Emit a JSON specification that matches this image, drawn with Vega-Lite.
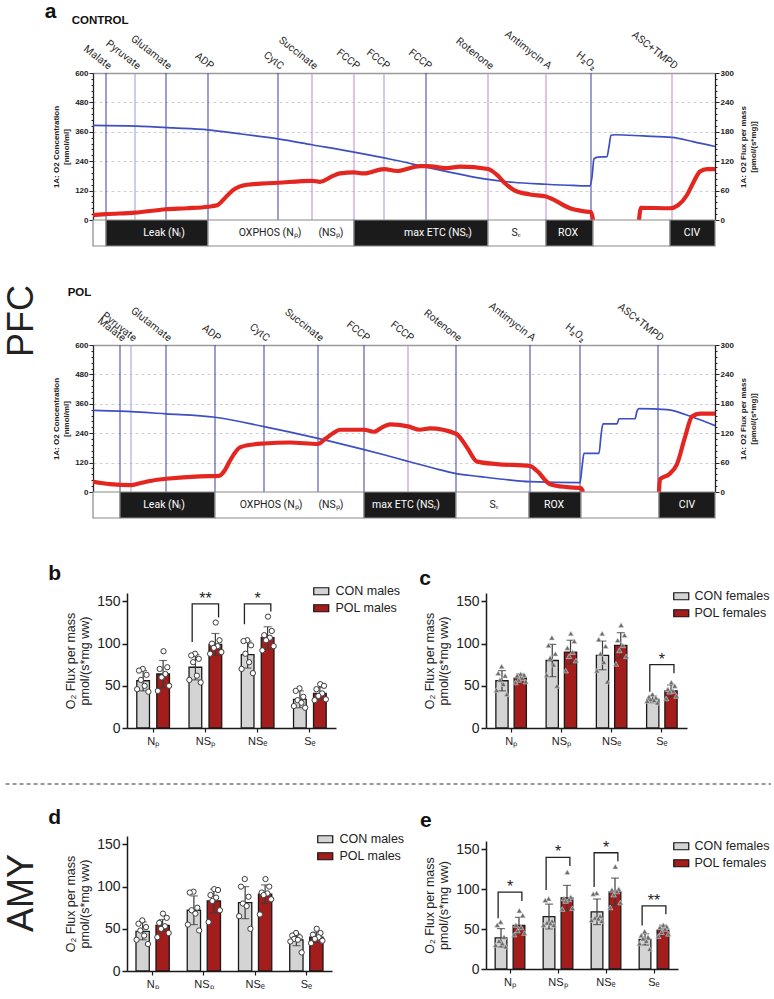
{
  "$schema": "https://vega.github.io/schema/vega-lite/v6.json",
  "padding": {"left": 3, "top": 0, "right": 0, "bottom": 0},
  "config": {
    "view": {"stroke": null},
    "font": "Liberation Sans",
    "title": {"color": "#111", "font": "Liberation Sans"},
    "axis": {"labelFont": "Liberation Sans", "titleFont": "Liberation Sans"},
    "legend": {"labelFont": "Liberation Sans"}
  },
  "datasets": {
    "ctrl_events": [
      {"t": 13, "label": "Malate", "kind": "blue"},
      {"t": 42, "label": "Pyruvate", "kind": "pale"},
      {"t": 73, "label": "Glutamate", "kind": "blue"},
      {"t": 115, "label": "ADP", "kind": "blue"},
      {"t": 185, "label": "CytC", "kind": "blue"},
      {"t": 219, "label": "Succinate", "kind": "violet"},
      {"t": 261, "label": "FCCP", "kind": "violet"},
      {"t": 291, "label": "FCCP", "kind": "pale"},
      {"t": 333, "label": "FCCP", "kind": "blue"},
      {"t": 395, "label": "Rotenone", "kind": "violet"},
      {"t": 453, "label": "Antimycin A", "kind": "violet"},
      {"t": 498, "label": "H₂O₂", "kind": "blue"},
      {"t": 579, "label": "ASC+TMPD", "kind": "violet"}
    ],
    "ctrl_conc": [
      {"t": 0, "o2": 386}, {"t": 43, "o2": 383}, {"t": 80, "o2": 376}, {"t": 115, "o2": 368},
      {"t": 150, "o2": 350}, {"t": 185, "o2": 331}, {"t": 219, "o2": 307}, {"t": 261, "o2": 277},
      {"t": 300, "o2": 246}, {"t": 340, "o2": 210}, {"t": 395, "o2": 166}, {"t": 420, "o2": 154},
      {"t": 453, "o2": 146}, {"t": 480, "o2": 141}, {"t": 497, "o2": 139}, {"t": 499, "o2": 175},
      {"t": 501, "o2": 250}, {"t": 505, "o2": 257}, {"t": 514, "o2": 259}, {"t": 516, "o2": 300},
      {"t": 518, "o2": 346}, {"t": 522, "o2": 348}, {"t": 550, "o2": 343}, {"t": 579, "o2": 337},
      {"t": 600, "o2": 320}, {"t": 622, "o2": 300}
    ],
    "ctrl_flux": [
      {"t": 0, "flux": 10, "seg": "a"}, {"t": 13, "flux": 12, "seg": "a"}, {"t": 42, "flux": 15, "seg": "a"},
      {"t": 73, "flux": 22, "seg": "a"}, {"t": 94, "flux": 24, "seg": "a"}, {"t": 115, "flux": 27, "seg": "a"},
      {"t": 124, "flux": 30, "seg": "a"}, {"t": 132, "flux": 45, "seg": "a"}, {"t": 140, "flux": 61, "seg": "a"},
      {"t": 154, "flux": 72, "seg": "a"}, {"t": 185, "flux": 76, "seg": "a"}, {"t": 219, "flux": 80, "seg": "a"},
      {"t": 227, "flux": 78, "seg": "a"}, {"t": 240, "flux": 90, "seg": "a"}, {"t": 247, "flux": 95, "seg": "a"},
      {"t": 261, "flux": 97, "seg": "a"}, {"t": 271, "flux": 95, "seg": "a"}, {"t": 291, "flux": 104, "seg": "a"},
      {"t": 304, "flux": 100, "seg": "a"}, {"t": 327, "flux": 110, "seg": "a"}, {"t": 334, "flux": 110, "seg": "a"},
      {"t": 354, "flux": 106, "seg": "a"}, {"t": 367, "flux": 109, "seg": "a"}, {"t": 395, "flux": 104, "seg": "a"},
      {"t": 404, "flux": 92, "seg": "a"}, {"t": 412, "flux": 75, "seg": "a"}, {"t": 421, "flux": 61, "seg": "a"},
      {"t": 437, "flux": 52, "seg": "a"}, {"t": 453, "flux": 48, "seg": "a"}, {"t": 461, "flux": 41, "seg": "a"},
      {"t": 477, "flux": 24, "seg": "a"}, {"t": 490, "flux": 18, "seg": "a"}, {"t": 498, "flux": 16, "seg": "a"},
      {"t": 500, "flux": 0, "seg": "a"},
      {"t": 546, "flux": 0, "seg": "b"}, {"t": 548, "flux": 25, "seg": "b"}, {"t": 577, "flux": 24, "seg": "b"},
      {"t": 585, "flux": 30, "seg": "b"}, {"t": 594, "flux": 51, "seg": "b"}, {"t": 600, "flux": 75, "seg": "b"},
      {"t": 607, "flux": 99, "seg": "b"}, {"t": 614, "flux": 104, "seg": "b"}, {"t": 622, "flux": 104, "seg": "b"}
    ],
    "ctrl_states": [
      {"start": 0, "end": 13, "band": "light"}, {"start": 13, "end": 115, "band": "dark"},
      {"start": 115, "end": 261, "band": "light"}, {"start": 261, "end": 395, "band": "dark"},
      {"start": 395, "end": 453, "band": "light"}, {"start": 453, "end": 500, "band": "dark"},
      {"start": 500, "end": 577, "band": "light"}, {"start": 577, "end": 622, "band": "dark"}
    ],
    "ctrl_statelabels": [
      {"t": 71, "label": "Leak (Nₗ)", "band": "dark"},
      {"t": 177, "label": "OXPHOS (Nₚ)", "band": "light"},
      {"t": 238, "label": "(NSₚ)", "band": "light"},
      {"t": 345, "label": "max ETC (NSₑ)", "band": "dark"},
      {"t": 423, "label": "Sₑ", "band": "light"},
      {"t": 475, "label": "ROX", "band": "dark"},
      {"t": 599, "label": "CIV", "band": "dark"}
    ],
    "pol_events": [
      {"t": 27, "label": "Malate", "kind": "blue"},
      {"t": 38, "label": "Pyruvate", "kind": "pale"},
      {"t": 73, "label": "Glutamate", "kind": "blue"},
      {"t": 122, "label": "ADP", "kind": "blue"},
      {"t": 171, "label": "CytC", "kind": "blue"},
      {"t": 225, "label": "Succinate", "kind": "blue"},
      {"t": 271, "label": "FCCP", "kind": "blue"},
      {"t": 315, "label": "FCCP", "kind": "violet"},
      {"t": 363, "label": "Rotenone", "kind": "blue"},
      {"t": 437, "label": "Antimycin A", "kind": "blue"},
      {"t": 487, "label": "H₂O₂", "kind": "blue"},
      {"t": 565, "label": "ASC+TMPD", "kind": "blue"}
    ],
    "pol_conc": [
      {"t": 0, "o2": 333}, {"t": 27, "o2": 330}, {"t": 73, "o2": 319}, {"t": 122, "o2": 305},
      {"t": 171, "o2": 267}, {"t": 225, "o2": 219}, {"t": 271, "o2": 173}, {"t": 290, "o2": 153},
      {"t": 315, "o2": 125}, {"t": 340, "o2": 98}, {"t": 363, "o2": 75}, {"t": 387, "o2": 63},
      {"t": 410, "o2": 52}, {"t": 437, "o2": 42}, {"t": 487, "o2": 38}, {"t": 489, "o2": 100},
      {"t": 491, "o2": 158}, {"t": 506, "o2": 158}, {"t": 508, "o2": 230}, {"t": 510, "o2": 278},
      {"t": 524, "o2": 278}, {"t": 526, "o2": 299}, {"t": 542, "o2": 299}, {"t": 544, "o2": 330},
      {"t": 546, "o2": 340}, {"t": 574, "o2": 336}, {"t": 600, "o2": 305}, {"t": 622, "o2": 271}
    ],
    "pol_flux": [
      {"t": 0, "flux": 21, "seg": "a"}, {"t": 17, "flux": 16, "seg": "a"}, {"t": 38, "flux": 14, "seg": "a"},
      {"t": 47, "flux": 18, "seg": "a"}, {"t": 64, "flux": 25, "seg": "a"}, {"t": 73, "flux": 27, "seg": "a"},
      {"t": 107, "flux": 32, "seg": "a"}, {"t": 126, "flux": 33, "seg": "a"}, {"t": 132, "flux": 45, "seg": "a"},
      {"t": 137, "flux": 64, "seg": "a"}, {"t": 147, "flux": 91, "seg": "a"}, {"t": 160, "flux": 97, "seg": "a"},
      {"t": 171, "flux": 99, "seg": "a"}, {"t": 197, "flux": 101, "seg": "a"}, {"t": 225, "flux": 98, "seg": "a"},
      {"t": 232, "flux": 108, "seg": "a"}, {"t": 240, "flux": 120, "seg": "a"}, {"t": 247, "flux": 127, "seg": "a"},
      {"t": 271, "flux": 127, "seg": "a"}, {"t": 281, "flux": 123, "seg": "a"}, {"t": 290, "flux": 133, "seg": "a"},
      {"t": 297, "flux": 138, "seg": "a"}, {"t": 315, "flux": 134, "seg": "a"}, {"t": 327, "flux": 127, "seg": "a"},
      {"t": 337, "flux": 130, "seg": "a"}, {"t": 363, "flux": 119, "seg": "a"}, {"t": 374, "flux": 91, "seg": "a"},
      {"t": 384, "flux": 62, "seg": "a"}, {"t": 404, "flux": 57, "seg": "a"}, {"t": 437, "flux": 53, "seg": "a"},
      {"t": 444, "flux": 43, "seg": "a"}, {"t": 457, "flux": 16, "seg": "a"}, {"t": 474, "flux": 10, "seg": "a"},
      {"t": 488, "flux": 8, "seg": "a"}, {"t": 490, "flux": 0, "seg": "a"},
      {"t": 566, "flux": 0, "seg": "b"}, {"t": 567, "flux": 26, "seg": "b"}, {"t": 576, "flux": 36, "seg": "b"},
      {"t": 584, "flux": 57, "seg": "b"}, {"t": 592, "flux": 112, "seg": "b"}, {"t": 599, "flux": 154, "seg": "b"},
      {"t": 607, "flux": 160, "seg": "b"}, {"t": 622, "flux": 160, "seg": "b"}
    ],
    "pol_states": [
      {"start": 0, "end": 27, "band": "light"}, {"start": 27, "end": 122, "band": "dark"},
      {"start": 122, "end": 271, "band": "light"}, {"start": 271, "end": 363, "band": "dark"},
      {"start": 363, "end": 436, "band": "light"}, {"start": 436, "end": 488, "band": "dark"},
      {"start": 488, "end": 566, "band": "light"}, {"start": 566, "end": 622, "band": "dark"}
    ],
    "pol_statelabels": [
      {"t": 71, "label": "Leak (Nₗ)", "band": "dark"},
      {"t": 178, "label": "OXPHOS (Nₚ)", "band": "light"},
      {"t": 238, "label": "(NSₚ)", "band": "light"},
      {"t": 313, "label": "max ETC (NSₑ)", "band": "dark"},
      {"t": 401, "label": "Sₑ", "band": "light"},
      {"t": 461, "label": "ROX", "band": "dark"},
      {"t": 594, "label": "CIV", "band": "dark"}
    ],
    "b_means": [
      {"cat": "Nₚ", "group": "CON males", "mean": 56, "lo": 44, "hi": 68},
      {"cat": "Nₚ", "group": "POL males", "mean": 64, "lo": 48, "hi": 80},
      {"cat": "NSₚ", "group": "CON males", "mean": 72, "lo": 57, "hi": 87},
      {"cat": "NSₚ", "group": "POL males", "mean": 99, "lo": 86, "hi": 112},
      {"cat": "NSₑ", "group": "CON males", "mean": 87, "lo": 71, "hi": 103},
      {"cat": "NSₑ", "group": "POL males", "mean": 107, "lo": 94, "hi": 120},
      {"cat": "Sₑ", "group": "CON males", "mean": 34, "lo": 24, "hi": 44},
      {"cat": "Sₑ", "group": "POL males", "mean": 41, "lo": 34, "hi": 48}
    ],
    "b_dots": [
      {"cat": "Nₚ", "id": "C4", "v": 70}, {"cat": "Nₚ", "id": "C2", "v": 68}, {"cat": "Nₚ", "id": "C6", "v": 63}, {"cat": "Nₚ", "id": "C3", "v": 57}, {"cat": "Nₚ", "id": "C5", "v": 50}, {"cat": "Nₚ", "id": "C1", "v": 46}, {"cat": "Nₚ", "id": "C7", "v": 43},
      {"cat": "Nₚ", "id": "P4", "v": 91}, {"cat": "Nₚ", "id": "P6", "v": 72}, {"cat": "Nₚ", "id": "P2", "v": 70}, {"cat": "Nₚ", "id": "P5", "v": 64}, {"cat": "Nₚ", "id": "P3", "v": 60}, {"cat": "Nₚ", "id": "P7", "v": 50}, {"cat": "Nₚ", "id": "P1", "v": 44},
      {"cat": "NSₚ", "id": "C4", "v": 88}, {"cat": "NSₚ", "id": "C2", "v": 86}, {"cat": "NSₚ", "id": "C6", "v": 82}, {"cat": "NSₚ", "id": "C3", "v": 78}, {"cat": "NSₚ", "id": "C5", "v": 62}, {"cat": "NSₚ", "id": "C1", "v": 57}, {"cat": "NSₚ", "id": "C7", "v": 54},
      {"cat": "NSₚ", "id": "P4", "v": 125}, {"cat": "NSₚ", "id": "P6", "v": 104}, {"cat": "NSₚ", "id": "P2", "v": 100}, {"cat": "NSₚ", "id": "P5", "v": 97}, {"cat": "NSₚ", "id": "P3", "v": 95}, {"cat": "NSₚ", "id": "P7", "v": 90}, {"cat": "NSₚ", "id": "P1", "v": 88},
      {"cat": "NSₑ", "id": "C4", "v": 104}, {"cat": "NSₑ", "id": "C2", "v": 103}, {"cat": "NSₑ", "id": "C6", "v": 98}, {"cat": "NSₑ", "id": "C3", "v": 88}, {"cat": "NSₑ", "id": "C5", "v": 78}, {"cat": "NSₑ", "id": "C1", "v": 70}, {"cat": "NSₑ", "id": "C7", "v": 65},
      {"cat": "NSₑ", "id": "P4", "v": 132}, {"cat": "NSₑ", "id": "P6", "v": 115}, {"cat": "NSₑ", "id": "P2", "v": 110}, {"cat": "NSₑ", "id": "P5", "v": 107}, {"cat": "NSₑ", "id": "P3", "v": 104}, {"cat": "NSₑ", "id": "P7", "v": 97}, {"cat": "NSₑ", "id": "P1", "v": 92},
      {"cat": "Sₑ", "id": "C4", "v": 47}, {"cat": "Sₑ", "id": "C2", "v": 44}, {"cat": "Sₑ", "id": "C6", "v": 37}, {"cat": "Sₑ", "id": "C3", "v": 33}, {"cat": "Sₑ", "id": "C5", "v": 30}, {"cat": "Sₑ", "id": "C1", "v": 26}, {"cat": "Sₑ", "id": "C7", "v": 24},
      {"cat": "Sₑ", "id": "P4", "v": 52}, {"cat": "Sₑ", "id": "P6", "v": 50}, {"cat": "Sₑ", "id": "P2", "v": 46}, {"cat": "Sₑ", "id": "P5", "v": 41}, {"cat": "Sₑ", "id": "P3", "v": 38}, {"cat": "Sₑ", "id": "P7", "v": 34}, {"cat": "Sₑ", "id": "P1", "v": 33}
    ],
    "b_brackets": [
      {"cat": "NSₚ", "group": "CON males", "y": 102, "seq": 1}, {"cat": "NSₚ", "group": "CON males", "y": 147, "seq": 2},
      {"cat": "NSₚ", "group": "POL males", "y": 147, "seq": 3}, {"cat": "NSₚ", "group": "POL males", "y": 131, "seq": 4},
      {"cat": "NSₑ", "group": "CON males", "y": 123, "seq": 1}, {"cat": "NSₑ", "group": "CON males", "y": 147, "seq": 2},
      {"cat": "NSₑ", "group": "POL males", "y": 147, "seq": 3}, {"cat": "NSₑ", "group": "POL males", "y": 138, "seq": 4}
    ],
    "b_stars": [
      {"cat": "NSₚ", "y": 147, "label": "**"},
      {"cat": "NSₑ", "y": 147, "label": "*"}
    ],
    "c_means": [
      {"cat": "Nₚ", "group": "CON females", "mean": 56, "lo": 44, "hi": 68},
      {"cat": "Nₚ", "group": "POL females", "mean": 59, "lo": 54, "hi": 64},
      {"cat": "NSₚ", "group": "CON females", "mean": 80, "lo": 61, "hi": 99},
      {"cat": "NSₚ", "group": "POL females", "mean": 90, "lo": 76, "hi": 104},
      {"cat": "NSₑ", "group": "CON females", "mean": 86, "lo": 69, "hi": 103},
      {"cat": "NSₑ", "group": "POL females", "mean": 98, "lo": 83, "hi": 113},
      {"cat": "Sₑ", "group": "CON females", "mean": 34, "lo": 30, "hi": 38},
      {"cat": "Sₑ", "group": "POL females", "mean": 44, "lo": 37, "hi": 51}
    ],
    "c_dots": [
      {"cat": "Nₚ", "id": "C4", "v": 73}, {"cat": "Nₚ", "id": "C2", "v": 65}, {"cat": "Nₚ", "id": "C6", "v": 62}, {"cat": "Nₚ", "id": "C3", "v": 57}, {"cat": "Nₚ", "id": "C5", "v": 52}, {"cat": "Nₚ", "id": "C1", "v": 45}, {"cat": "Nₚ", "id": "C7", "v": 40},
      {"cat": "Nₚ", "id": "P4", "v": 64}, {"cat": "Nₚ", "id": "P6", "v": 63}, {"cat": "Nₚ", "id": "P2", "v": 62}, {"cat": "Nₚ", "id": "P5", "v": 59}, {"cat": "Nₚ", "id": "P3", "v": 57}, {"cat": "Nₚ", "id": "P7", "v": 55}, {"cat": "Nₚ", "id": "P1", "v": 54},
      {"cat": "NSₚ", "id": "C4", "v": 107}, {"cat": "NSₚ", "id": "C2", "v": 98}, {"cat": "NSₚ", "id": "C6", "v": 88}, {"cat": "NSₚ", "id": "C3", "v": 83}, {"cat": "NSₚ", "id": "C5", "v": 75}, {"cat": "NSₚ", "id": "C1", "v": 63}, {"cat": "NSₚ", "id": "C7", "v": 50},
      {"cat": "NSₚ", "id": "P4", "v": 112}, {"cat": "NSₚ", "id": "P6", "v": 103}, {"cat": "NSₚ", "id": "P2", "v": 95}, {"cat": "NSₚ", "id": "P5", "v": 90}, {"cat": "NSₚ", "id": "P3", "v": 85}, {"cat": "NSₚ", "id": "P7", "v": 80}, {"cat": "NSₚ", "id": "P1", "v": 68},
      {"cat": "NSₑ", "id": "C4", "v": 112}, {"cat": "NSₑ", "id": "C2", "v": 105}, {"cat": "NSₑ", "id": "C6", "v": 97}, {"cat": "NSₑ", "id": "C3", "v": 88}, {"cat": "NSₑ", "id": "C5", "v": 78}, {"cat": "NSₑ", "id": "C1", "v": 68}, {"cat": "NSₑ", "id": "C7", "v": 55},
      {"cat": "NSₑ", "id": "P4", "v": 122}, {"cat": "NSₑ", "id": "P6", "v": 110}, {"cat": "NSₑ", "id": "P2", "v": 104}, {"cat": "NSₑ", "id": "P5", "v": 98}, {"cat": "NSₑ", "id": "P3", "v": 92}, {"cat": "NSₑ", "id": "P7", "v": 85}, {"cat": "NSₑ", "id": "P1", "v": 76},
      {"cat": "Sₑ", "id": "C4", "v": 40}, {"cat": "Sₑ", "id": "C2", "v": 37}, {"cat": "Sₑ", "id": "C6", "v": 36}, {"cat": "Sₑ", "id": "C3", "v": 34}, {"cat": "Sₑ", "id": "C5", "v": 33}, {"cat": "Sₑ", "id": "C1", "v": 32}, {"cat": "Sₑ", "id": "C7", "v": 30},
      {"cat": "Sₑ", "id": "P4", "v": 54}, {"cat": "Sₑ", "id": "P6", "v": 50}, {"cat": "Sₑ", "id": "P2", "v": 46}, {"cat": "Sₑ", "id": "P5", "v": 44}, {"cat": "Sₑ", "id": "P3", "v": 43}, {"cat": "Sₑ", "id": "P7", "v": 38}, {"cat": "Sₑ", "id": "P1", "v": 35}
    ],
    "c_brackets": [
      {"cat": "Sₑ", "group": "CON females", "y": 43, "seq": 1}, {"cat": "Sₑ", "group": "CON females", "y": 75, "seq": 2},
      {"cat": "Sₑ", "group": "POL females", "y": 75, "seq": 3}, {"cat": "Sₑ", "group": "POL females", "y": 65, "seq": 4}
    ],
    "c_stars": [
      {"cat": "Sₑ", "y": 75, "label": "*"}
    ],
    "d_means": [
      {"cat": "Nₚ", "group": "CON males", "mean": 47, "lo": 37, "hi": 58},
      {"cat": "Nₚ", "group": "POL males", "mean": 54, "lo": 47, "hi": 61},
      {"cat": "NSₚ", "group": "CON males", "mean": 72, "lo": 55, "hi": 89},
      {"cat": "NSₚ", "group": "POL males", "mean": 83, "lo": 69, "hi": 97},
      {"cat": "NSₑ", "group": "CON males", "mean": 81, "lo": 62, "hi": 100},
      {"cat": "NSₑ", "group": "POL males", "mean": 91, "lo": 80, "hi": 102},
      {"cat": "Sₑ", "group": "CON males", "mean": 37, "lo": 30, "hi": 44},
      {"cat": "Sₑ", "group": "POL males", "mean": 40, "lo": 34, "hi": 46}
    ],
    "d_dots": [
      {"cat": "Nₚ", "id": "C4", "v": 60}, {"cat": "Nₚ", "id": "C2", "v": 56}, {"cat": "Nₚ", "id": "C6", "v": 52}, {"cat": "Nₚ", "id": "C3", "v": 48}, {"cat": "Nₚ", "id": "C5", "v": 42}, {"cat": "Nₚ", "id": "C1", "v": 37}, {"cat": "Nₚ", "id": "C7", "v": 32},
      {"cat": "Nₚ", "id": "P4", "v": 68}, {"cat": "Nₚ", "id": "P6", "v": 63}, {"cat": "Nₚ", "id": "P2", "v": 57}, {"cat": "Nₚ", "id": "P5", "v": 53}, {"cat": "Nₚ", "id": "P3", "v": 50}, {"cat": "Nₚ", "id": "P7", "v": 45}, {"cat": "Nₚ", "id": "P1", "v": 40},
      {"cat": "NSₚ", "id": "C4", "v": 94}, {"cat": "NSₚ", "id": "C2", "v": 93}, {"cat": "NSₚ", "id": "C6", "v": 75}, {"cat": "NSₚ", "id": "C3", "v": 72}, {"cat": "NSₚ", "id": "C5", "v": 68}, {"cat": "NSₚ", "id": "C1", "v": 55}, {"cat": "NSₚ", "id": "C7", "v": 48},
      {"cat": "NSₚ", "id": "P4", "v": 97}, {"cat": "NSₚ", "id": "P6", "v": 96}, {"cat": "NSₚ", "id": "P2", "v": 90}, {"cat": "NSₚ", "id": "P5", "v": 87}, {"cat": "NSₚ", "id": "P3", "v": 83}, {"cat": "NSₚ", "id": "P7", "v": 72}, {"cat": "NSₚ", "id": "P1", "v": 58},
      {"cat": "NSₑ", "id": "C4", "v": 109}, {"cat": "NSₑ", "id": "C2", "v": 100}, {"cat": "NSₑ", "id": "C6", "v": 88}, {"cat": "NSₑ", "id": "C3", "v": 80}, {"cat": "NSₑ", "id": "C5", "v": 77}, {"cat": "NSₑ", "id": "C1", "v": 65}, {"cat": "NSₑ", "id": "C7", "v": 50},
      {"cat": "NSₑ", "id": "P4", "v": 109}, {"cat": "NSₑ", "id": "P6", "v": 100}, {"cat": "NSₑ", "id": "P2", "v": 93}, {"cat": "NSₑ", "id": "P5", "v": 92}, {"cat": "NSₑ", "id": "P3", "v": 90}, {"cat": "NSₑ", "id": "P7", "v": 85}, {"cat": "NSₑ", "id": "P1", "v": 67},
      {"cat": "Sₑ", "id": "C4", "v": 45}, {"cat": "Sₑ", "id": "C2", "v": 42}, {"cat": "Sₑ", "id": "C6", "v": 40}, {"cat": "Sₑ", "id": "C3", "v": 38}, {"cat": "Sₑ", "id": "C5", "v": 37}, {"cat": "Sₑ", "id": "C1", "v": 35}, {"cat": "Sₑ", "id": "C7", "v": 22},
      {"cat": "Sₑ", "id": "P4", "v": 50}, {"cat": "Sₑ", "id": "P6", "v": 45}, {"cat": "Sₑ", "id": "P2", "v": 43}, {"cat": "Sₑ", "id": "P5", "v": 40}, {"cat": "Sₑ", "id": "P3", "v": 38}, {"cat": "Sₑ", "id": "P7", "v": 36}, {"cat": "Sₑ", "id": "P1", "v": 33}
    ],
    "e_means": [
      {"cat": "Nₚ", "group": "CON females", "mean": 39, "lo": 27.5, "hi": 50.5},
      {"cat": "Nₚ", "group": "POL females", "mean": 54.5, "lo": 44.5, "hi": 64.5},
      {"cat": "NSₚ", "group": "CON females", "mean": 65.5, "lo": 50, "hi": 81},
      {"cat": "NSₚ", "group": "POL females", "mean": 89, "lo": 73.5, "hi": 104.5},
      {"cat": "NSₑ", "group": "CON females", "mean": 71.5, "lo": 55.5, "hi": 87.5},
      {"cat": "NSₑ", "group": "POL females", "mean": 96.5, "lo": 79.5, "hi": 113.5},
      {"cat": "Sₑ", "group": "CON females", "mean": 37, "lo": 30, "hi": 44},
      {"cat": "Sₑ", "group": "POL females", "mean": 48.7, "lo": 42.7, "hi": 54.7}
    ],
    "e_dots": [
      {"cat": "Nₚ", "id": "C4", "v": 59}, {"cat": "Nₚ", "id": "C2", "v": 55}, {"cat": "Nₚ", "id": "C6", "v": 40}, {"cat": "Nₚ", "id": "C3", "v": 35}, {"cat": "Nₚ", "id": "C5", "v": 32}, {"cat": "Nₚ", "id": "C1", "v": 30}, {"cat": "Nₚ", "id": "C7", "v": 28},
      {"cat": "Nₚ", "id": "P4", "v": 73}, {"cat": "Nₚ", "id": "P6", "v": 67}, {"cat": "Nₚ", "id": "P2", "v": 55}, {"cat": "Nₚ", "id": "P5", "v": 52}, {"cat": "Nₚ", "id": "P3", "v": 48}, {"cat": "Nₚ", "id": "P7", "v": 45}, {"cat": "Nₚ", "id": "P1", "v": 43},
      {"cat": "NSₚ", "id": "C4", "v": 88}, {"cat": "NSₚ", "id": "C2", "v": 86}, {"cat": "NSₚ", "id": "C6", "v": 60}, {"cat": "NSₚ", "id": "C3", "v": 58}, {"cat": "NSₚ", "id": "C5", "v": 57}, {"cat": "NSₚ", "id": "C1", "v": 55}, {"cat": "NSₚ", "id": "C7", "v": 55},
      {"cat": "NSₚ", "id": "P4", "v": 121}, {"cat": "NSₚ", "id": "P6", "v": 90}, {"cat": "NSₚ", "id": "P2", "v": 88}, {"cat": "NSₚ", "id": "P5", "v": 87}, {"cat": "NSₚ", "id": "P3", "v": 85}, {"cat": "NSₚ", "id": "P7", "v": 76}, {"cat": "NSₚ", "id": "P1", "v": 75},
      {"cat": "NSₑ", "id": "C4", "v": 95}, {"cat": "NSₑ", "id": "C2", "v": 94}, {"cat": "NSₑ", "id": "C6", "v": 66}, {"cat": "NSₑ", "id": "C3", "v": 64}, {"cat": "NSₑ", "id": "C5", "v": 63}, {"cat": "NSₑ", "id": "C1", "v": 61}, {"cat": "NSₑ", "id": "C7", "v": 60},
      {"cat": "NSₑ", "id": "P4", "v": 128}, {"cat": "NSₑ", "id": "P6", "v": 100}, {"cat": "NSₑ", "id": "P2", "v": 99}, {"cat": "NSₑ", "id": "P5", "v": 97}, {"cat": "NSₑ", "id": "P3", "v": 93}, {"cat": "NSₑ", "id": "P7", "v": 83}, {"cat": "NSₑ", "id": "P1", "v": 77},
      {"cat": "Sₑ", "id": "C4", "v": 47}, {"cat": "Sₑ", "id": "C2", "v": 42}, {"cat": "Sₑ", "id": "C6", "v": 40}, {"cat": "Sₑ", "id": "C3", "v": 38}, {"cat": "Sₑ", "id": "C5", "v": 35}, {"cat": "Sₑ", "id": "C1", "v": 32}, {"cat": "Sₑ", "id": "C7", "v": 25},
      {"cat": "Sₑ", "id": "P4", "v": 55}, {"cat": "Sₑ", "id": "P6", "v": 53}, {"cat": "Sₑ", "id": "P2", "v": 52}, {"cat": "Sₑ", "id": "P5", "v": 50}, {"cat": "Sₑ", "id": "P3", "v": 46}, {"cat": "Sₑ", "id": "P7", "v": 44}, {"cat": "Sₑ", "id": "P1", "v": 41}
    ],
    "e_brackets": [
      {"cat": "Nₚ", "group": "CON females", "y": 63.5, "seq": 1}, {"cat": "Nₚ", "group": "CON females", "y": 96, "seq": 2},
      {"cat": "Nₚ", "group": "POL females", "y": 96, "seq": 3}, {"cat": "Nₚ", "group": "POL females", "y": 85, "seq": 4},
      {"cat": "NSₚ", "group": "CON females", "y": 98.6, "seq": 1}, {"cat": "NSₚ", "group": "CON females", "y": 139.5, "seq": 2},
      {"cat": "NSₚ", "group": "POL females", "y": 139.5, "seq": 3}, {"cat": "NSₚ", "group": "POL females", "y": 128.6, "seq": 4},
      {"cat": "NSₑ", "group": "CON females", "y": 102.4, "seq": 1}, {"cat": "NSₑ", "group": "CON females", "y": 145.3, "seq": 2},
      {"cat": "NSₑ", "group": "POL females", "y": 145.3, "seq": 3}, {"cat": "NSₑ", "group": "POL females", "y": 134.8, "seq": 4},
      {"cat": "Sₑ", "group": "CON females", "y": 54.5, "seq": 1}, {"cat": "Sₑ", "group": "CON females", "y": 79, "seq": 2},
      {"cat": "Sₑ", "group": "POL females", "y": 79, "seq": 3}, {"cat": "Sₑ", "group": "POL females", "y": 68.5, "seq": 4}
    ],
    "e_stars": [
      {"cat": "Nₚ", "y": 96, "label": "*"},
      {"cat": "NSₚ", "y": 139.5, "label": "*"},
      {"cat": "NSₑ", "y": 145.3, "label": "*"},
      {"cat": "Sₑ", "y": 79, "label": "**"}
    ]
  },
  "spacing": 20,
  "resolve": {"scale": {"fill": "independent"}, "legend": {"fill": "independent"}},
  "vconcat": [
    {
      "spacing": 44,
      "resolve": {"scale": {"fill": "independent"}, "legend": {"fill": "independent"}},
      "vconcat": [
        {
          "spacing": 0,
          "hconcat": [
            {
              "title": {"text": "PFC", "orient": "left", "anchor": "middle", "fontSize": 36, "fontWeight": "normal", "color": "#222", "dx": -28, "offset": -1},
              "width": 4,
              "height": 440,
              "data": {"values": []},
              "mark": "point"
            },
            {
              "title": {"text": "a", "anchor": "start", "frame": "bounds", "fontSize": 21, "fontWeight": "bold", "dx": -8, "offset": -7},
              "spacing": 39,
              "vconcat": [
                {
                  "title": {"text": "CONTROL", "anchor": "start", "frame": "bounds", "fontSize": 11.5, "fontWeight": "bold", "dx": 19, "offset": 3},
                  "spacing": 0,
                  "bounds": "flush",
                  "vconcat": [
                    {
                      "width": 622,
                      "height": 147,
                      "layer": [
                        {
                          "data": {"name": "ctrl_events"},
                          "mark": {"type": "rule", "strokeWidth": 1.1},
                          "encoding": {
                            "x": {"field": "t", "type": "quantitative", "scale": {"domain": [0, 622], "nice": false}, "axis": {"orient": "top", "labels": false, "ticks": false, "grid": false, "title": null, "domainColor": "#9a9a9a", "domainWidth": 1.5}},
                            "color": {"condition": [{"test": "datum.kind == 'violet'", "value": "#c98fdc"}, {"test": "datum.kind == 'pale'", "value": "#a2a2dc"}], "value": "#4d4dab"}
                          }
                        },
                        {
                          "data": {"name": "ctrl_events"},
                          "mark": {"type": "text", "angle": 38, "align": "right", "baseline": "bottom", "font": "Roboto", "fontSize": 10.5, "color": "#2a2a2a", "dy": -2},
                          "encoding": {
                            "x": {"field": "t", "type": "quantitative"},
                            "y": {"datum": 600, "type": "quantitative", "scale": {"domain": [0, 600]}, "axis": null},
                            "text": {"field": "label"}
                          }
                        },
                        {
                          "data": {"name": "ctrl_conc"},
                          "mark": {"type": "line", "color": "#3d4fc2", "strokeWidth": 1.7, "interpolate": "monotone"},
                          "encoding": {
                            "x": {"field": "t", "type": "quantitative"},
                            "y": {"field": "o2", "type": "quantitative", "scale": {"domain": [0, 600]},
                              "axis": {"orient": "left", "values": [0, 24, 48, 72, 96, 120, 144, 168, 192, 216, 240, 264, 288, 312, 336, 360, 384, 408, 432, 456, 480, 504, 528, 552, 576, 600],
                                "labelExpr": "datum.value % 120 == 0 ? datum.label : ''",
                                "tickSize": {"condition": {"test": "datum.value % 120 == 0", "value": 4}, "value": 2},
                                "grid": true, "gridDash": [3, 3], "gridColor": "#c4c4c4", "gridWidth": 0.8,
                                "gridOpacity": {"condition": {"test": "datum.value % 120 == 0 && datum.value > 0 && datum.value < 600", "value": 1}, "value": 0},
                                "labelFontSize": 8, "labelFontWeight": "bold", "labelColor": "#222", "labelPadding": 1,
                                "title": ["1A: O2 Concentration", "[nmol/ml]"], "titleFontSize": 8, "titleFontWeight": "bold", "titleColor": "#222", "titlePadding": 4,
                                "domainColor": "#222", "domainWidth": 1.3, "tickColor": "#222", "tickWidth": 1}}
                          }
                        },
                        {
                          "data": {"name": "ctrl_flux"},
                          "mark": {"type": "line", "color": "#e3261f", "strokeWidth": 4.2, "interpolate": "monotone"},
                          "encoding": {
                            "x": {"field": "t", "type": "quantitative"},
                            "y": {"field": "flux", "type": "quantitative", "scale": {"domain": [0, 300]},
                              "axis": {"orient": "right", "values": [0, 12, 24, 36, 48, 60, 72, 84, 96, 108, 120, 132, 144, 156, 168, 180, 192, 204, 216, 228, 240, 252, 264, 276, 288, 300],
                                "labelExpr": "datum.value % 60 == 0 ? datum.label : ''",
                                "tickSize": {"condition": {"test": "datum.value % 60 == 0", "value": 4}, "value": 2},
                                "grid": false,
                                "labelFontSize": 8, "labelFontWeight": "bold", "labelColor": "#222", "labelPadding": 1,
                                "title": ["1A: O2 Flux per mass", "[pmol/(s*mg)]"], "titleAngle": 270, "titleFontSize": 8, "titleFontWeight": "bold", "titleColor": "#222", "titlePadding": 4,
                                "domainColor": "#222", "domainWidth": 1.3, "tickColor": "#222", "tickWidth": 1}},
                            "detail": {"field": "seg"}
                          }
                        }
                      ],
                      "resolve": {"scale": {"y": "independent"}, "axis": {"y": "independent"}}
                    },
                    {
                      "width": 622,
                      "height": 26,
                      "layer": [
                        {
                          "data": {"name": "ctrl_states"},
                          "mark": {"type": "rect", "stroke": "#8a8a8a", "strokeWidth": 1.2},
                          "encoding": {
                            "x": {"field": "start", "type": "quantitative", "scale": {"domain": [0, 622], "nice": false}, "axis": null},
                            "x2": {"field": "end"},
                            "fill": {"condition": {"test": "datum.band == 'dark'", "value": "#1b1b1b"}, "value": "#ffffff"}
                          }
                        },
                        {
                          "data": {"name": "ctrl_statelabels"},
                          "mark": {"type": "text", "font": "Roboto", "fontSize": 10.5, "baseline": "middle"},
                          "encoding": {
                            "x": {"field": "t", "type": "quantitative"},
                            "text": {"field": "label"},
                            "color": {"condition": {"test": "datum.band == 'dark'", "value": "#ffffff"}, "value": "#222222"}
                          }
                        }
                      ]
                    }
                  ]
                },
                {
                  "title": {"text": "POL", "anchor": "start", "frame": "bounds", "fontSize": 11.5, "fontWeight": "bold", "dx": 15, "offset": 3},
                  "spacing": 0,
                  "bounds": "flush",
                  "vconcat": [
                    {
                      "width": 622,
                      "height": 147,
                      "layer": [
                        {
                          "data": {"name": "pol_events"},
                          "mark": {"type": "rule", "strokeWidth": 1.1},
                          "encoding": {
                            "x": {"field": "t", "type": "quantitative", "scale": {"domain": [0, 622], "nice": false}, "axis": {"orient": "top", "labels": false, "ticks": false, "grid": false, "title": null, "domainColor": "#9a9a9a", "domainWidth": 1.5}},
                            "color": {"condition": [{"test": "datum.kind == 'violet'", "value": "#c98fdc"}, {"test": "datum.kind == 'pale'", "value": "#a2a2dc"}], "value": "#4d4dab"}
                          }
                        },
                        {
                          "data": {"name": "pol_events"},
                          "mark": {"type": "text", "angle": 38, "align": "right", "baseline": "bottom", "font": "Roboto", "fontSize": 10.5, "color": "#2a2a2a", "dy": -2},
                          "encoding": {
                            "x": {"field": "t", "type": "quantitative"},
                            "y": {"datum": 600, "type": "quantitative", "scale": {"domain": [0, 600]}, "axis": null},
                            "text": {"field": "label"}
                          }
                        },
                        {
                          "data": {"name": "pol_conc"},
                          "mark": {"type": "line", "color": "#3d4fc2", "strokeWidth": 1.7, "interpolate": "monotone"},
                          "encoding": {
                            "x": {"field": "t", "type": "quantitative"},
                            "y": {"field": "o2", "type": "quantitative", "scale": {"domain": [0, 600]},
                              "axis": {"orient": "left", "values": [0, 24, 48, 72, 96, 120, 144, 168, 192, 216, 240, 264, 288, 312, 336, 360, 384, 408, 432, 456, 480, 504, 528, 552, 576, 600],
                                "labelExpr": "datum.value % 120 == 0 ? datum.label : ''",
                                "tickSize": {"condition": {"test": "datum.value % 120 == 0", "value": 4}, "value": 2},
                                "grid": true, "gridDash": [3, 3], "gridColor": "#c4c4c4", "gridWidth": 0.8,
                                "gridOpacity": {"condition": {"test": "datum.value % 120 == 0 && datum.value > 0 && datum.value < 600", "value": 1}, "value": 0},
                                "labelFontSize": 8, "labelFontWeight": "bold", "labelColor": "#222", "labelPadding": 1,
                                "title": ["1A: O2 Concentration", "[nmol/ml]"], "titleFontSize": 8, "titleFontWeight": "bold", "titleColor": "#222", "titlePadding": 4,
                                "domainColor": "#222", "domainWidth": 1.3, "tickColor": "#222", "tickWidth": 1}}
                          }
                        },
                        {
                          "data": {"name": "pol_flux"},
                          "mark": {"type": "line", "color": "#e3261f", "strokeWidth": 4.2, "interpolate": "monotone"},
                          "encoding": {
                            "x": {"field": "t", "type": "quantitative"},
                            "y": {"field": "flux", "type": "quantitative", "scale": {"domain": [0, 300]},
                              "axis": {"orient": "right", "values": [0, 12, 24, 36, 48, 60, 72, 84, 96, 108, 120, 132, 144, 156, 168, 180, 192, 204, 216, 228, 240, 252, 264, 276, 288, 300],
                                "labelExpr": "datum.value % 60 == 0 ? datum.label : ''",
                                "tickSize": {"condition": {"test": "datum.value % 60 == 0", "value": 4}, "value": 2},
                                "grid": false,
                                "labelFontSize": 8, "labelFontWeight": "bold", "labelColor": "#222", "labelPadding": 1,
                                "title": ["1A: O2 Flux per mass", "[pmol/(s*mg)]"], "titleAngle": 270, "titleFontSize": 8, "titleFontWeight": "bold", "titleColor": "#222", "titlePadding": 4,
                                "domainColor": "#222", "domainWidth": 1.3, "tickColor": "#222", "tickWidth": 1}},
                            "detail": {"field": "seg"}
                          }
                        }
                      ],
                      "resolve": {"scale": {"y": "independent"}, "axis": {"y": "independent"}}
                    },
                    {
                      "width": 622,
                      "height": 26,
                      "layer": [
                        {
                          "data": {"name": "pol_states"},
                          "mark": {"type": "rect", "stroke": "#8a8a8a", "strokeWidth": 1.2},
                          "encoding": {
                            "x": {"field": "start", "type": "quantitative", "scale": {"domain": [0, 622], "nice": false}, "axis": null},
                            "x2": {"field": "end"},
                            "fill": {"condition": {"test": "datum.band == 'dark'", "value": "#1b1b1b"}, "value": "#ffffff"}
                          }
                        },
                        {
                          "data": {"name": "pol_statelabels"},
                          "mark": {"type": "text", "font": "Roboto", "fontSize": 10.5, "baseline": "middle"},
                          "encoding": {
                            "x": {"field": "t", "type": "quantitative"},
                            "text": {"field": "label"},
                            "color": {"condition": {"test": "datum.band == 'dark'", "value": "#ffffff"}, "value": "#222222"}
                          }
                        }
                      ]
                    }
                  ]
                }
              ]
            }
          ]
        },
        {
          "spacing": 0,
          "resolve": {"scale": {"fill": "independent"}, "legend": {"fill": "independent"}},
          "hconcat": [
            {
              "width": 8,
              "height": 1,
              "data": {"values": []},
              "mark": "point"
            },
            {
              "spacing": 18,
              "resolve": {"scale": {"fill": "independent"}, "legend": {"fill": "independent"}},
              "hconcat": [
                {
                  "title": {"text": "b", "anchor": "start", "frame": "bounds", "fontSize": 21, "fontWeight": "bold", "dx": -16, "offset": 1},
                  "width": 209,
                  "height": 135,
                  "layer": [
                    {
                      "data": {"name": "b_means"},
                      "mark": {"type": "bar", "stroke": "#1a1a1a", "strokeWidth": 1.3},
                      "encoding": {
                        "x": {"field": "cat", "type": "nominal", "sort": ["Nₚ", "NSₚ", "NSₑ", "Sₑ"], "scale": {"domain": ["Nₚ", "NSₚ", "NSₑ", "Sₑ"], "paddingInner": 0, "paddingOuter": 0},
                          "axis": {"title": null, "labelAngle": 0, "labelFontSize": 11, "labelColor": "#222", "labelPadding": 3, "domainColor": "#1a1a1a", "domainWidth": 1.5, "tickColor": "#1a1a1a", "tickWidth": 1.2, "tickSize": 4}},
                        "xOffset": {"field": "group", "scale": {"domain": ["CON males", "POL males"], "paddingInner": 0.365, "paddingOuter": 0.49}},
                        "y": {"field": "mean", "type": "quantitative", "scale": {"domain": [0, 150]},
                          "axis": {"values": [0, 50, 100, 150], "title": ["O₂ Flux per mass", "pmol/(s*mg ww)"], "titleFontSize": 12.5, "titleFontWeight": "normal", "titleColor": "#222", "titlePadding": 5, "labelFontSize": 14, "labelColor": "#222", "labelPadding": 2, "domainColor": "#1a1a1a", "domainWidth": 1.5, "tickColor": "#1a1a1a", "tickWidth": 1.5, "tickSize": 5, "grid": false}},
                        "fill": {"field": "group", "type": "nominal", "scale": {"domain": ["CON males", "POL males"], "range": ["#d4d4d4", "#a21d1b"]},
                          "legend": {"orient": "none", "legendX": 188, "legendY": -8, "title": null, "labelFontSize": 12.5, "labelColor": "#222", "symbolType": "M-1.5,-0.7H1.5V0.7H-1.5Z", "symbolSize": 100, "symbolStrokeColor": "#111", "symbolStrokeWidth": 1.2, "rowPadding": 4, "labelOffset": 8, "padding": 0}}
                      }
                    },
                    {
                      "data": {"name": "b_means"},
                      "mark": {"type": "rule", "color": "#3a3a3a", "strokeWidth": 1.2},
                      "encoding": {
                        "x": {"field": "cat", "type": "nominal"},
                        "xOffset": {"field": "group", "scale": {"domain": ["CON males", "POL males"], "paddingInner": 0.365, "paddingOuter": 0.49}},
                        "y": {"field": "lo", "type": "quantitative"},
                        "y2": {"field": "hi"}
                      }
                    },
                    {
                      "data": {"name": "b_means"},
                      "mark": {"type": "tick", "color": "#3a3a3a", "thickness": 1.2, "size": 8},
                      "encoding": {
                        "x": {"field": "cat", "type": "nominal"},
                        "xOffset": {"field": "group", "scale": {"domain": ["CON males", "POL males"], "paddingInner": 0.365, "paddingOuter": 0.49}},
                        "y": {"field": "hi", "type": "quantitative"}
                      }
                    },
                    {
                      "data": {"name": "b_means"},
                      "mark": {"type": "tick", "color": "#3a3a3a", "thickness": 1.2, "size": 8},
                      "encoding": {
                        "x": {"field": "cat", "type": "nominal"},
                        "xOffset": {"field": "group", "scale": {"domain": ["CON males", "POL males"], "paddingInner": 0.365, "paddingOuter": 0.49}},
                        "y": {"field": "lo", "type": "quantitative"}
                      }
                    },
                    {
                      "data": {"name": "b_dots"},
                      "mark": {"type": "point", "shape": "circle", "filled": true, "fill": "#ffffff", "stroke": "#3c3c3c", "strokeWidth": 1, "size": 28, "opacity": 1},
                      "encoding": {
                        "x": {"field": "cat", "type": "nominal"},
                        "xOffset": {"field": "id", "scale": {"domain": ["o1", "o2", "o3", "o4", "o5", "C1", "C2", "C3", "C4", "C5", "C6", "C7", "g1", "g2", "g3", "g4", "P1", "P2", "P3", "P4", "P5", "P6", "P7", "q1", "q2", "q3", "q4", "q5"], "paddingInner": 0, "paddingOuter": 0.37}},
                        "y": {"field": "v", "type": "quantitative"}
                      }
                    },
                    {
                      "data": {"name": "b_brackets"},
                      "mark": {"type": "line", "color": "#222", "strokeWidth": 1.3},
                      "encoding": {
                        "x": {"field": "cat", "type": "nominal"},
                        "xOffset": {"field": "group", "scale": {"domain": ["CON males", "POL males"], "paddingInner": 0.365, "paddingOuter": 0.49}},
                        "y": {"field": "y", "type": "quantitative"},
                        "detail": {"field": "cat"},
                        "order": {"field": "seq"}
                      }
                    },
                    {
                      "data": {"name": "b_stars"},
                      "mark": {"type": "text", "fontSize": 16, "baseline": "alphabetic", "color": "#222"},
                      "encoding": {
                        "x": {"field": "cat", "type": "nominal"},
                        "y": {"field": "y", "type": "quantitative"},
                        "text": {"field": "label"}
                      }
                    }
                  ],
                  "resolve": {"scale": {"xOffset": "independent"}}
                },
                {
                  "title": {"text": "c", "anchor": "start", "frame": "bounds", "fontSize": 21, "fontWeight": "bold", "dx": -4, "offset": 1},
                  "width": 201,
                  "height": 135,
                  "layer": [
                    {
                      "data": {"name": "c_means"},
                      "mark": {"type": "bar", "stroke": "#1a1a1a", "strokeWidth": 1.3},
                      "encoding": {
                        "x": {"field": "cat", "type": "nominal", "sort": ["Nₚ", "NSₚ", "NSₑ", "Sₑ"], "scale": {"domain": ["Nₚ", "NSₚ", "NSₑ", "Sₑ"], "paddingInner": 0, "paddingOuter": 0},
                          "axis": {"title": null, "labelAngle": 0, "labelFontSize": 11, "labelColor": "#222", "labelPadding": 3, "domainColor": "#1a1a1a", "domainWidth": 1.5, "tickColor": "#1a1a1a", "tickWidth": 1.2, "tickSize": 4}},
                        "xOffset": {"field": "group", "scale": {"domain": ["CON females", "POL females"], "paddingInner": 0.33, "paddingOuter": 0.54}},
                        "y": {"field": "mean", "type": "quantitative", "scale": {"domain": [0, 150]},
                          "axis": {"values": [0, 50, 100, 150], "title": ["O₂ Flux per mass", "pmol/(s*mg ww)"], "titleFontSize": 12.5, "titleFontWeight": "normal", "titleColor": "#222", "titlePadding": 5, "labelFontSize": 14, "labelColor": "#222", "labelPadding": 2, "domainColor": "#1a1a1a", "domainWidth": 1.5, "tickColor": "#1a1a1a", "tickWidth": 1.5, "tickSize": 5, "grid": false}},
                        "fill": {"field": "group", "type": "nominal", "scale": {"domain": ["CON females", "POL females"], "range": ["#d4d4d4", "#a21d1b"]},
                          "legend": {"orient": "none", "legendX": 189, "legendY": -3, "title": null, "labelFontSize": 12.5, "labelColor": "#222", "symbolType": "M-1.5,-0.7H1.5V0.7H-1.5Z", "symbolSize": 100, "symbolStrokeColor": "#111", "symbolStrokeWidth": 1.2, "rowPadding": 4, "labelOffset": 7, "padding": 0}}
                      }
                    },
                    {
                      "data": {"name": "c_means"},
                      "mark": {"type": "rule", "color": "#3a3a3a", "strokeWidth": 1.2},
                      "encoding": {
                        "x": {"field": "cat", "type": "nominal"},
                        "xOffset": {"field": "group", "scale": {"domain": ["CON females", "POL females"], "paddingInner": 0.33, "paddingOuter": 0.54}},
                        "y": {"field": "lo", "type": "quantitative"},
                        "y2": {"field": "hi"}
                      }
                    },
                    {
                      "data": {"name": "c_means"},
                      "mark": {"type": "tick", "color": "#3a3a3a", "thickness": 1.2, "size": 8},
                      "encoding": {
                        "x": {"field": "cat", "type": "nominal"},
                        "xOffset": {"field": "group", "scale": {"domain": ["CON females", "POL females"], "paddingInner": 0.33, "paddingOuter": 0.54}},
                        "y": {"field": "hi", "type": "quantitative"}
                      }
                    },
                    {
                      "data": {"name": "c_means"},
                      "mark": {"type": "tick", "color": "#3a3a3a", "thickness": 1.2, "size": 8},
                      "encoding": {
                        "x": {"field": "cat", "type": "nominal"},
                        "xOffset": {"field": "group", "scale": {"domain": ["CON females", "POL females"], "paddingInner": 0.33, "paddingOuter": 0.54}},
                        "y": {"field": "lo", "type": "quantitative"}
                      }
                    },
                    {
                      "data": {"name": "c_dots"},
                      "mark": {"type": "point", "shape": "triangle-up", "filled": true, "fill": "#6a6a6a", "stroke": "#d6d6d6", "strokeWidth": 0.6, "size": 30, "opacity": 1},
                      "encoding": {
                        "x": {"field": "cat", "type": "nominal"},
                        "xOffset": {"field": "id", "scale": {"domain": ["o1", "o2", "o3", "o4", "o5", "o6", "C1", "C2", "C3", "C4", "C5", "C6", "C7", "g1", "g2", "g3", "g4", "P1", "P2", "P3", "P4", "P5", "P6", "P7", "q1", "q2", "q3", "q4", "q5", "q6"], "paddingInner": 0, "paddingOuter": 0.1}},
                        "y": {"field": "v", "type": "quantitative"}
                      }
                    },
                    {
                      "data": {"name": "c_brackets"},
                      "mark": {"type": "line", "color": "#222", "strokeWidth": 1.3},
                      "encoding": {
                        "x": {"field": "cat", "type": "nominal"},
                        "xOffset": {"field": "group", "scale": {"domain": ["CON females", "POL females"], "paddingInner": 0.33, "paddingOuter": 0.54}},
                        "y": {"field": "y", "type": "quantitative"},
                        "detail": {"field": "cat"},
                        "order": {"field": "seq"}
                      }
                    },
                    {
                      "data": {"name": "c_stars"},
                      "mark": {"type": "text", "fontSize": 16, "baseline": "alphabetic", "color": "#222"},
                      "encoding": {
                        "x": {"field": "cat", "type": "nominal"},
                        "y": {"field": "y", "type": "quantitative"},
                        "text": {"field": "label"}
                      }
                    }
                  ],
                  "resolve": {"scale": {"xOffset": "independent"}}
                }
              ]
            }
          ]
        }
      ]
    },
    {
      "width": 731,
      "height": 18,
      "data": {"values": [{"p": 0}, {"p": 1}]},
      "mark": {"type": "line", "color": "#333", "strokeWidth": 1.2, "strokeDash": [4, 3]},
      "encoding": {
        "x": {"field": "p", "type": "quantitative", "scale": {"domain": [0.045, 1]}, "axis": null},
        "y": {"datum": 0, "type": "quantitative", "scale": {"domain": [0, 1]}, "axis": null}
      }
    },
    {
      "spacing": 0,
      "resolve": {"scale": {"fill": "independent"}, "legend": {"fill": "independent"}},
      "hconcat": [
        {
          "title": {"text": "AMY", "orient": "left", "anchor": "middle", "fontSize": 36, "fontWeight": "normal", "color": "#222", "offset": -1},
          "width": 8,
          "height": 114,
          "data": {"values": []},
          "mark": "point"
        },
        {
          "spacing": 15,
          "resolve": {"scale": {"fill": "independent"}, "legend": {"fill": "independent"}},
          "hconcat": [
            {
              "title": {"text": "d", "anchor": "start", "frame": "bounds", "fontSize": 21, "fontWeight": "bold", "dx": -16, "offset": 5},
              "width": 205,
              "height": 135,
              "layer": [
                {
                  "data": {"name": "d_means"},
                  "mark": {"type": "bar", "stroke": "#1a1a1a", "strokeWidth": 1.3},
                  "encoding": {
                    "x": {"field": "cat", "type": "nominal", "sort": ["Nₚ", "NSₚ", "NSₑ", "Sₑ"], "scale": {"domain": ["Nₚ", "NSₚ", "NSₑ", "Sₑ"], "paddingInner": 0, "paddingOuter": 0},
                      "axis": {"title": null, "labelAngle": 0, "labelFontSize": 11, "labelColor": "#222", "labelPadding": 3, "domainColor": "#1a1a1a", "domainWidth": 1.5, "tickColor": "#1a1a1a", "tickWidth": 1.2, "tickSize": 4}},
                    "xOffset": {"field": "group", "scale": {"domain": ["CON males", "POL males"], "paddingInner": 0.335, "paddingOuter": 0.45}},
                    "y": {"field": "mean", "type": "quantitative", "scale": {"domain": [0, 150]},
                      "axis": {"values": [0, 50, 100, 150], "title": ["O₂ Flux per mass", "pmol/(s*mg ww)"], "titleFontSize": 12.5, "titleFontWeight": "normal", "titleColor": "#222", "titlePadding": 5, "labelFontSize": 14, "labelColor": "#222", "labelPadding": 2, "domainColor": "#1a1a1a", "domainWidth": 1.5, "tickColor": "#1a1a1a", "tickWidth": 1.5, "tickSize": 5, "grid": false}},
                    "fill": {"field": "group", "type": "nominal", "scale": {"domain": ["CON males", "POL males"], "range": ["#d4d4d4", "#a21d1b"]},
                      "legend": {"orient": "none", "legendX": 192, "legendY": -3, "title": null, "labelFontSize": 12.5, "labelColor": "#222", "symbolType": "M-1.5,-0.7H1.5V0.7H-1.5Z", "symbolSize": 100, "symbolStrokeColor": "#111", "symbolStrokeWidth": 1.2, "rowPadding": 4, "labelOffset": 8, "padding": 0}}
                  }
                },
                {
                  "data": {"name": "d_means"},
                  "mark": {"type": "rule", "color": "#3a3a3a", "strokeWidth": 1.2},
                  "encoding": {
                    "x": {"field": "cat", "type": "nominal"},
                    "xOffset": {"field": "group", "scale": {"domain": ["CON males", "POL males"], "paddingInner": 0.335, "paddingOuter": 0.45}},
                    "y": {"field": "lo", "type": "quantitative"},
                    "y2": {"field": "hi"}
                  }
                },
                {
                  "data": {"name": "d_means"},
                  "mark": {"type": "tick", "color": "#3a3a3a", "thickness": 1.2, "size": 8},
                  "encoding": {
                    "x": {"field": "cat", "type": "nominal"},
                    "xOffset": {"field": "group", "scale": {"domain": ["CON males", "POL males"], "paddingInner": 0.335, "paddingOuter": 0.45}},
                    "y": {"field": "hi", "type": "quantitative"}
                  }
                },
                {
                  "data": {"name": "d_means"},
                  "mark": {"type": "tick", "color": "#3a3a3a", "thickness": 1.2, "size": 8},
                  "encoding": {
                    "x": {"field": "cat", "type": "nominal"},
                    "xOffset": {"field": "group", "scale": {"domain": ["CON males", "POL males"], "paddingInner": 0.335, "paddingOuter": 0.45}},
                    "y": {"field": "lo", "type": "quantitative"}
                  }
                },
                {
                  "data": {"name": "d_dots"},
                  "mark": {"type": "point", "shape": "circle", "filled": true, "fill": "#ffffff", "stroke": "#3c3c3c", "strokeWidth": 1, "size": 28, "opacity": 1},
                  "encoding": {
                    "x": {"field": "cat", "type": "nominal"},
                    "xOffset": {"field": "id", "scale": {"domain": ["o1", "o2", "o3", "o4", "o5", "C1", "C2", "C3", "C4", "C5", "C6", "C7", "g1", "g2", "g3", "g4", "P1", "P2", "P3", "P4", "P5", "P6", "P7", "q1", "q2", "q3", "q4", "q5"], "paddingInner": 0, "paddingOuter": 0.1}},
                    "y": {"field": "v", "type": "quantitative"}
                  }
                }
              ],
              "resolve": {"scale": {"xOffset": "independent"}}
            },
            {
              "spacing": 2,
              "resolve": {"scale": {"fill": "independent"}, "legend": {"fill": "independent"}},
              "vconcat": [
                {
                  "title": {"text": "e", "anchor": "start", "frame": "bounds", "fontSize": 21, "fontWeight": "bold", "dx": -66, "offset": 5},
                  "width": 4,
                  "height": 1,
                  "data": {"values": []},
                  "mark": "point"
                },
                {
                  "width": 192,
                  "height": 128,
                  "layer": [
                    {
                      "data": {"name": "e_means"},
                      "mark": {"type": "bar", "stroke": "#1a1a1a", "strokeWidth": 1.3},
                      "encoding": {
                        "x": {"field": "cat", "type": "nominal", "sort": ["Nₚ", "NSₚ", "NSₑ", "Sₑ"], "scale": {"domain": ["Nₚ", "NSₚ", "NSₑ", "Sₑ"], "paddingInner": 0, "paddingOuter": 0},
                          "axis": {"title": null, "labelAngle": 0, "labelFontSize": 11, "labelColor": "#222", "labelPadding": 3, "domainColor": "#1a1a1a", "domainWidth": 1.5, "tickColor": "#1a1a1a", "tickWidth": 1.2, "tickSize": 4}},
                        "xOffset": {"field": "group", "scale": {"domain": ["CON females", "POL females"], "paddingInner": 0.35, "paddingOuter": 0.51}},
                        "y": {"field": "mean", "type": "quantitative", "scale": {"domain": [0, 150]},
                          "axis": {"values": [0, 50, 100, 150], "title": ["O₂ Flux per mass", "pmol/(s*mg ww)"], "titleFontSize": 12.5, "titleFontWeight": "normal", "titleColor": "#222", "titlePadding": 5, "labelFontSize": 14, "labelColor": "#222", "labelPadding": 2, "domainColor": "#1a1a1a", "domainWidth": 1.5, "tickColor": "#1a1a1a", "tickWidth": 1.5, "tickSize": 5, "grid": false}},
                        "fill": {"field": "group", "type": "nominal", "scale": {"domain": ["CON females", "POL females"], "range": ["#d4d4d4", "#a21d1b"]},
                          "legend": {"orient": "none", "legendX": 189, "legendY": -1, "title": null, "labelFontSize": 12.5, "labelColor": "#222", "symbolType": "M-1.5,-0.7H1.5V0.7H-1.5Z", "symbolSize": 100, "symbolStrokeColor": "#111", "symbolStrokeWidth": 1.2, "rowPadding": 4, "labelOffset": 7, "padding": 0}}
                      }
                    },
                    {
                      "data": {"name": "e_means"},
                      "mark": {"type": "rule", "color": "#3a3a3a", "strokeWidth": 1.2},
                      "encoding": {
                        "x": {"field": "cat", "type": "nominal"},
                        "xOffset": {"field": "group", "scale": {"domain": ["CON females", "POL females"], "paddingInner": 0.35, "paddingOuter": 0.51}},
                        "y": {"field": "lo", "type": "quantitative"},
                        "y2": {"field": "hi"}
                      }
                    },
                    {
                      "data": {"name": "e_means"},
                      "mark": {"type": "tick", "color": "#3a3a3a", "thickness": 1.2, "size": 8},
                      "encoding": {
                        "x": {"field": "cat", "type": "nominal"},
                        "xOffset": {"field": "group", "scale": {"domain": ["CON females", "POL females"], "paddingInner": 0.35, "paddingOuter": 0.51}},
                        "y": {"field": "hi", "type": "quantitative"}
                      }
                    },
                    {
                      "data": {"name": "e_means"},
                      "mark": {"type": "tick", "color": "#3a3a3a", "thickness": 1.2, "size": 8},
                      "encoding": {
                        "x": {"field": "cat", "type": "nominal"},
                        "xOffset": {"field": "group", "scale": {"domain": ["CON females", "POL females"], "paddingInner": 0.35, "paddingOuter": 0.51}},
                        "y": {"field": "lo", "type": "quantitative"}
                      }
                    },
                    {
                      "data": {"name": "e_dots"},
                      "mark": {"type": "point", "shape": "triangle-up", "filled": true, "fill": "#6a6a6a", "stroke": "#d6d6d6", "strokeWidth": 0.6, "size": 30, "opacity": 1},
                      "encoding": {
                        "x": {"field": "cat", "type": "nominal"},
                        "xOffset": {"field": "id", "scale": {"domain": ["o1", "o2", "o3", "o4", "o5", "C1", "C2", "C3", "C4", "C5", "C6", "C7", "g1", "g2", "g3", "g4", "P1", "P2", "P3", "P4", "P5", "P6", "P7", "q1", "q2", "q3", "q4", "q5"], "paddingInner": 0, "paddingOuter": 0.64}},
                        "y": {"field": "v", "type": "quantitative"}
                      }
                    },
                    {
                      "data": {"name": "e_brackets"},
                      "mark": {"type": "line", "color": "#222", "strokeWidth": 1.3},
                      "encoding": {
                        "x": {"field": "cat", "type": "nominal"},
                        "xOffset": {"field": "group", "scale": {"domain": ["CON females", "POL females"], "paddingInner": 0.35, "paddingOuter": 0.51}},
                        "y": {"field": "y", "type": "quantitative"},
                        "detail": {"field": "cat"},
                        "order": {"field": "seq"}
                      }
                    },
                    {
                      "data": {"name": "e_stars"},
                      "mark": {"type": "text", "fontSize": 16, "baseline": "alphabetic", "color": "#222"},
                      "encoding": {
                        "x": {"field": "cat", "type": "nominal"},
                        "y": {"field": "y", "type": "quantitative"},
                        "text": {"field": "label"}
                      }
                    }
                  ],
                  "resolve": {"scale": {"xOffset": "independent"}}
                }
              ]
            }
          ]
        }
      ]
    }
  ]
}
